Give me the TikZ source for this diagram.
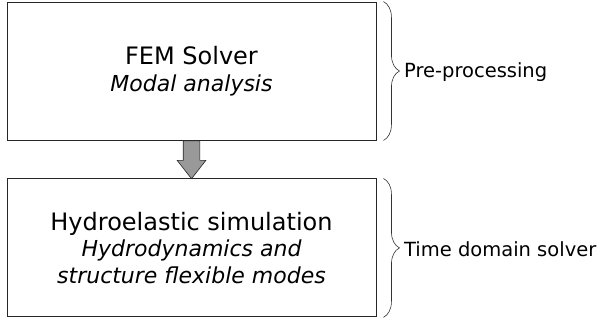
\documentclass[tikz,border=0pt]{standalone}
\usepackage{fontspec}
\setmainfont{DejaVu Sans}
\usepackage{tikz}
\usetikzlibrary{calc,positioning}
\usetikzlibrary{shapes.arrows}
\usetikzlibrary{decorations.pathreplacing}

\newcommand{\stagetitle}[1]{{\fontsize{24}{26.5}\selectfont #1}}
\newcommand{\stagenote}[1]{{\fontsize{22}{26.5}\selectfont\itshape #1}}

\begin{document}
\begin{tikzpicture}[x=1pt, y=1pt,
    stage/.style={draw=black!85, line width=0.9pt, rectangle, minimum width=369pt, minimum height=138pt, align=center, inner sep=0pt, font=\fontsize{24}{26.5}\selectfont},
    flowarrow/.style={draw=black!85, fill=black!40, line width=0.6pt, single arrow, rotate=-90, minimum height=38pt, single arrow head extend=6pt, single arrow tip angle=76, inner xsep=1pt, inner ysep=8pt},
    phase/.style={decorate, decoration={brace, amplitude=16pt, raise=7pt}, draw=black!80, line width=0.6pt},
    phaselabel/.style={anchor=west, xshift=24pt, yshift=-1pt, font=\fontsize{19.5}{22}\selectfont}]
    \useasboundingbox (0,0) rectangle (599,322);

    \node[stage] (fem) at (191.5,251) {\stagetitle{FEM Solver}\\ \stagenote{Modal analysis}};
    \node[stage, below=38pt of fem] (hydro) {\stagetitle{Hydroelastic simulation}\\ \stagenote{Hydrodynamics and}\\ \stagenote{structure flexible modes}};

    \node[flowarrow, anchor=tail] (step) at (fem.south) {};

    \draw[phase] (fem.north east) -- (fem.south east) node[phaselabel, midway] (pre) {Pre-processing};
    \draw[phase] (hydro.north east) -- (hydro.south east) node[phaselabel, midway] (time) {Time domain solver};
\end{tikzpicture}
\end{document}
